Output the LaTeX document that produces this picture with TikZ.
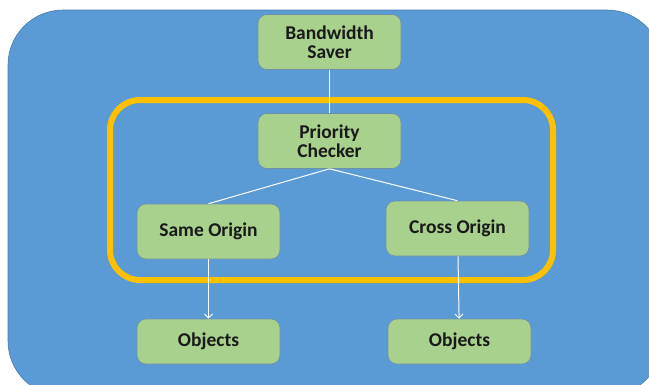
\documentclass[tikz,border=0pt]{standalone}
\usepackage{fontspec}
\setmainfont{Carlito}
\usepackage{tikz}
\usetikzlibrary{positioning, arrows.meta}

\definecolor{panelblue}{HTML}{5B9BD5}
\definecolor{boxgreen}{HTML}{A9D18E}
\definecolor{boxedge}{HTML}{6F8FA8}
\definecolor{ringyellow}{HTML}{FFC000}

\begin{document}
\begin{tikzpicture}[x=1pt, y=-1pt,
    blk/.style={draw=boxedge, fill=boxgreen, rounded corners=9pt, line width=0.6pt,
        minimum width=143pt, minimum height=55pt, align=center, text=black!90,
        font=\fontsize{19.5}{19}\selectfont\bfseries},
    objblk/.style={blk, minimum height=45pt},
    wire/.style={draw=white, line width=1pt}]
            \useasboundingbox (0,0) rectangle (649,384);
            \clip (0,0) rectangle (649,384);

            % Background
            \draw[panelblue!80!black, line width=0.6pt, rounded corners=55pt, fill=panelblue] (8,10) rectangle (662,396);
            \draw[ringyellow, line width=6pt, rounded corners=30pt] (110,100) rectangle (553,280);

            % Nodes
            \node[blk] (BS) at (329.5,42) {Bandwidth\\Saver};
            \node[blk] (PC) at (329.5,141) {Priority\\Checker};
            \node[blk] (SO) at (208.5,231.5) {Same Origin};
            \node[blk] (CO) at (457.5,228.5) {Cross Origin};
            \node[objblk] (O1) at (208.5,341.5) {Objects};
            \node[objblk] (O2) at (459.5,341.5) {Objects};

            % Edges
            \draw[wire] (BS) -- (PC);
            \draw[wire] (PC.south) -- (SO.north);
            \draw[wire] (PC.south) -- (CO.north);
            \draw[wire, -{Straight Barb[length=4pt, width=8pt]}] (SO) -- (O1);
            \draw[wire, -{Straight Barb[length=4pt, width=8pt]}] (CO) -- (O2);

        \end{tikzpicture}
\end{document}
